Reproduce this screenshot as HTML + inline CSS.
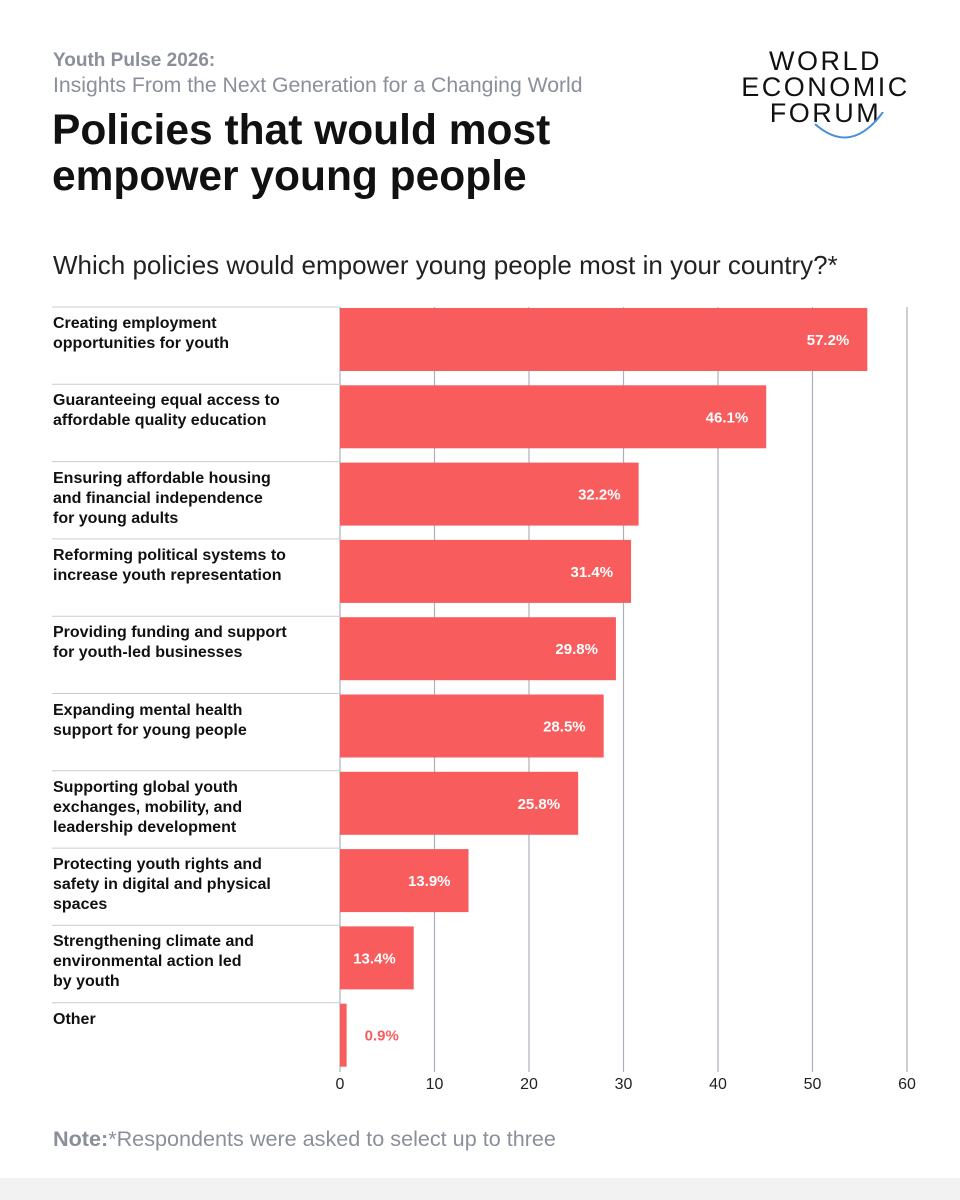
<!DOCTYPE html>
<html><head><meta charset="utf-8">
<style>
body{margin:0;width:960px;height:1200px;background:#fff;font-family:"Liberation Sans",Arial,sans-serif;position:relative;overflow:hidden}
.abs{position:absolute}
.lbl{position:absolute;left:53px;font-size:16px;font-weight:bold;color:#111;line-height:20px}
</style></head><body>
<div class="abs" style="left:53px;top:50px;font-size:19px;font-weight:bold;color:#8a8f99">Youth Pulse 2026:</div>
<div class="abs" style="left:53px;top:74px;font-size:21.2px;color:#8a8f99">Insights From the Next Generation for a Changing World</div>
<div class="abs" style="left:52px;top:108px;font-size:42.5px;font-weight:bold;color:#111;line-height:46px">Policies that would most<br>empower young people</div>
<div class="abs" style="left:733px;top:48px;width:185px;text-align:center;font-size:27px;letter-spacing:2.5px;line-height:26px;color:#111">WORLD<br>ECONOMIC<br>FORUM
<svg width="185" height="30" style="position:absolute;left:0;top:64px"><path d="M82 12 Q118 44 150 0" stroke="#4a90d9" stroke-width="2" fill="none"/></svg></div>
<div class="abs" style="left:53px;top:250px;font-size:26px;color:#222">Which policies would empower young people most in your country?*</div>
<svg id="chart" class="abs" style="left:0;top:0" width="960" height="1200"></svg>
<div id="labels"></div>
<div class="abs" style="left:53px;top:1126px;font-size:21.6px;color:#8a8f99"><b>Note:</b>*Respondents were asked to select up to three</div>
<div class="abs" style="left:0;top:1178px;width:960px;height:22px;background:#f2f2f2"></div>
<script>
const categories=["Creating employment<br>opportunities for youth","Guaranteeing equal access to<br>affordable quality education","Ensuring affordable housing<br>and financial independence<br>for young adults","Reforming political systems to<br>increase youth representation","Providing funding and support<br>for youth-led businesses","Expanding mental health<br>support for young people","Supporting global youth<br>exchanges, mobility, and<br>leadership development","Protecting youth rights and<br>safety in digital and physical<br>spaces","Strengthening climate and<br>environmental action led<br>by youth","Other"];
const barValues=[55.8,45.1,31.6,30.8,29.2,27.9,25.2,13.6,7.8,0.7];
const valueLabels=["57.2%","46.1%","32.2%","31.4%","29.8%","28.5%","25.8%","13.9%","13.4%","0.9%"];
const ticks=[0,10,20,30,40,50,60];
const NS="http://www.w3.org/2000/svg";
const svg=document.getElementById('chart');
const x0=340,pxPer=(907-340)/60,top0=307,rowH=77.3;
const X=v=>x0+v*pxPer, Y=i=>top0+i*rowH;
function mk(t,a){const e=document.createElementNS(NS,t);for(const k in a)e.setAttribute(k,a[k]);svg.appendChild(e);return e;}
const bottom=Y(categories.length)-8;
ticks.forEach(t=>{
 const g=mk('line',{x1:X(t),x2:X(t),y1:top0,y2:bottom,stroke:'#aab0bc','stroke-width':1.2});
 
 
 const tx=mk('text',{x:X(t),y:1089,'text-anchor':'middle','font-size':16,fill:'#222','font-family':'Liberation Sans, sans-serif'});
 tx.textContent=t;
 
 
});
const lab=document.getElementById('labels');
categories.forEach((c,i)=>{
 const sep=mk('line',{x1:52,x2:x0,y1:Y(i),y2:Y(i),stroke:'#c8ccd4','stroke-width':1});
 
 
 const w=X(barValues[i])-x0;
 const b=mk('rect',{x:x0,y:Y(i)+1,width:w,height:63,fill:'#f85c5c'});
 
 
 const inside=w>70;
 const t=mk('text',{x:inside?X(barValues[i])-18:X(barValues[i])+18,y:Y(i)+38,'text-anchor':inside?'end':'start','font-size':15,'font-weight':'bold',fill:inside?'#fff':'#f85c5c','font-family':'Liberation Sans, sans-serif'});
 t.textContent=valueLabels[i];
 
 
 const d=document.createElement('div');
 d.className='lbl';d.style.top=(Y(i)+7)+'px';d.innerHTML=c;
 
 
 lab.appendChild(d);
});
</script>
</body></html>
